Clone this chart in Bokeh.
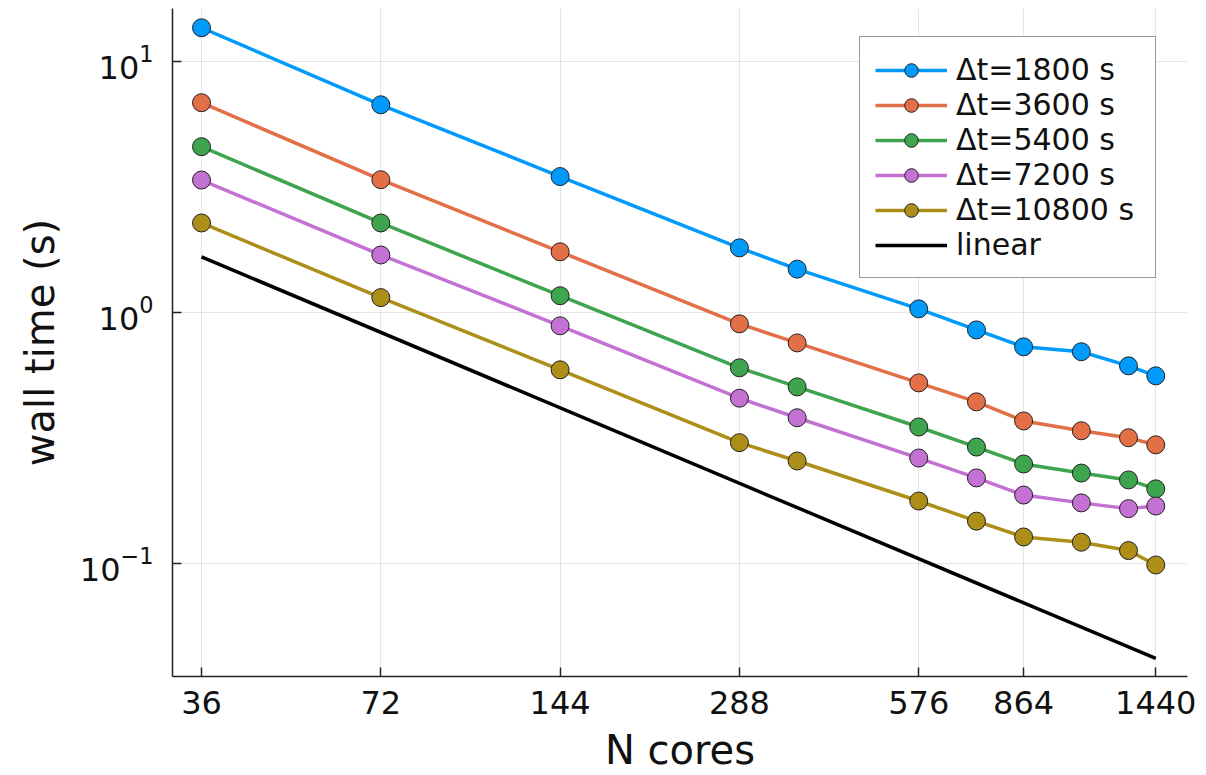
from bokeh.plotting import figure
from bokeh.models import Range1d, FixedTicker, BasicTickFormatter
from bokeh.embed import file_html
from bokeh.resources import INLINE

# ---------------- data ----------------
n_cores = [36, 72, 144, 288, 360, 576, 720, 864, 1080, 1296, 1440]

series_labels = ["Δt=1800 s", "Δt=3600 s", "Δt=5400 s", "Δt=7200 s", "Δt=10800 s"]
t_1800 = [13.66, 6.74, 3.49, 1.815, 1.493, 1.037, 0.855, 0.732, 0.700, 0.615, 0.561]
t_3600 = [6.87, 3.39, 1.75, 0.904, 0.759, 0.526, 0.442, 0.371, 0.339, 0.318, 0.298]
t_5400 = [4.59, 2.28, 1.17, 0.604, 0.507, 0.351, 0.292, 0.250, 0.230, 0.216, 0.199]
t_7200 = [3.38, 1.70, 0.888, 0.457, 0.382, 0.264, 0.220, 0.188, 0.175, 0.166, 0.170]
t_10800 = [2.28, 1.15, 0.593, 0.304, 0.257, 0.178, 0.148, 0.128, 0.122, 0.113, 0.099]

linear_label = "linear"
linear_x = [36, 1440]
linear_y = [1.67, 0.042]

x_ticks = [36, 72, 144, 288, 576, 864, 1440]
x_tick_labels = ["36", "72", "144", "288", "576", "864", "1440"]

x_label = "N cores"
y_label = "wall time (s)"

colors = ["#009BFA", "#E36F47", "#3EA44E", "#C371D2", "#AC8E18"]

FONT = "DejaVu Sans"

# ---------------- figure ----------------
p = figure(
    width=1206, height=775,
    x_axis_type="log", y_axis_type="log",
    x_range=Range1d(32.18, 1628), y_range=Range1d(0.0356, 16.3),
    output_backend="svg", toolbar_location=None,
    min_border_left=172, min_border_right=19,
    min_border_top=8, min_border_bottom=99,
)
p.outline_line_color = None
p.background_fill_color = "white"

all_series = [t_1800, t_3600, t_5400, t_7200, t_10800]
for ys, lab, c in zip(all_series, series_labels, colors):
    p.line(n_cores, ys, line_color=c, line_width=3.5, legend_label=lab)
    p.scatter(n_cores, ys, size=18, fill_color=c, line_color="#222222",
              line_width=1, legend_label=lab)

p.line(linear_x, linear_y, line_color="black", line_width=3.5, legend_label=linear_label)

# ---------------- axes ----------------
p.xaxis.ticker = FixedTicker(ticks=x_ticks, minor_ticks=[])
p.xaxis.major_label_overrides = {t: l for t, l in zip(x_ticks, x_tick_labels)}
p.xaxis.formatter = BasicTickFormatter()

for ax in (p.xaxis, p.yaxis):
    ax.axis_line_color = "#222222"
    ax.axis_line_width = 1.5
    ax.major_tick_line_color = "#222222"
    ax.major_tick_line_width = 1.5
    ax.major_tick_in = 9
    ax.major_tick_out = 0
    ax.minor_tick_line_color = None
    ax.major_label_text_font = FONT
    ax.major_label_text_color = "#111111"
    ax.axis_label_text_font = FONT
    ax.axis_label_text_font_style = "normal"
    ax.axis_label_text_font_size = "40px"
    ax.axis_label_text_color = "#111111"

p.xaxis.major_label_text_font_size = "32px"
p.yaxis.major_label_text_font_size = "32px"
p.xaxis.major_label_standoff = 14
p.yaxis.major_label_standoff = 15
p.xaxis.axis_label = x_label
p.yaxis.axis_label = y_label
p.xaxis.axis_label_standoff = 10
p.yaxis.axis_label_standoff = 14

p.xgrid.grid_line_color = "black"
p.xgrid.grid_line_alpha = 0.1
p.xgrid.grid_line_width = 1
p.ygrid.grid_line_color = "black"
p.ygrid.grid_line_alpha = 0.1
p.ygrid.grid_line_width = 1

# ---------------- legend ----------------
lg = p.legend[0]
lg.location = (687, 398)
lg.label_text_font = FONT
lg.label_text_font_size = "30px"
lg.label_text_color = "#111111"
lg.border_line_color = "#333333"
lg.border_line_width = 1.5
lg.background_fill_alpha = 1.0
lg.padding = 15
lg.spacing = 0
lg.margin = 0
lg.glyph_width = 72
lg.glyph_height = 34
lg.label_standoff = 9
lg.label_height = 34
lg.label_width = 184

open("out.html", "w").write(file_html(p, INLINE))
